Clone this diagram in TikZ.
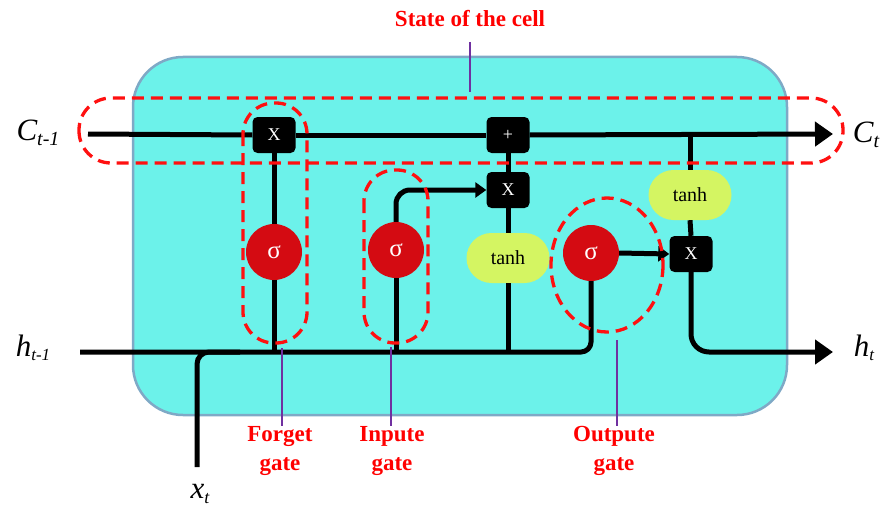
\documentclass[tikz,border=0pt]{standalone}
\usepackage{fontspec}
\setmainfont{Liberation Serif}
\usetikzlibrary{arrows.meta,shapes.geometric}
\definecolor{cellfill}{HTML}{6CF2EA}
\definecolor{cellborder}{HTML}{7FA9C6}
\definecolor{sigred}{HTML}{D40B12}
\definecolor{tanhfill}{HTML}{D4F562}
\definecolor{gatepurple}{HTML}{7030A0}
\definecolor{dashcol}{HTML}{FF1010}
\tikzset{
  opbox/.style={fill=black, rounded corners=5pt, minimum width=43pt, minimum height=36pt, inner sep=0pt, text=white, font=\fontsize{18}{18}\selectfont},
  sigbox/.style={circle, fill=sigred, minimum size=56pt, inner sep=0pt, text=white, font=\fontsize{25}{25}\selectfont},
  tanhbox/.style={fill=tanhfill, rounded corners=25pt, minimum width=83pt, minimum height=50pt, inner sep=0pt, font=\fontsize{20}{20}\selectfont},
  wire/.style={line width=5pt, black},
  bigtip/.style={-{Triangle[length=18pt,width=24pt]}},
  smalltip/.style={-{Triangle[length=11pt,width=15pt]}},
  dashred/.style={draw=dashcol, line width=3.3pt, dash pattern=on 12pt off 7pt},
  pointer/.style={draw=gatepurple, line width=1.5pt},
  redlabel/.style={text=red, font=\fontsize{23}{29}\selectfont\bfseries, align=center, inner sep=0pt},
  varlabel/.style={inner sep=0pt}
}
\begin{document}
\begin{tikzpicture}[x=1pt,y=-1pt]
\useasboundingbox (0,0) rectangle (884,511);
% cell body
\draw[draw=cellborder, line width=2.5pt, fill=cellfill, rounded corners=50pt] (133,57) rectangle (787,415);

% operation nodes
\node[opbox] (fx) at (274,135) {X};
\node[opbox] (plus) at (508,135) {+};
\node[opbox] (ix) at (508,190) {X};
\node[tanhbox] (tanha) at (508,258) {tanh};
\node[tanhbox] (tanhb) at (690,195) {tanh};
\node[opbox] (ox) at (691,254) {X};
\node[sigbox] (sf) at (274,252) {σ};
\node[sigbox] (si) at (396,250) {σ};
\node[sigbox] (so) at (591,253) {σ};

% coordinates
\coordinate (cin) at (88,134);
\coordinate (cout) at (833,134);
\coordinate (hin) at (80,352);
\coordinate (hout) at (833,352);
\coordinate (xin) at (197,467);
\coordinate (xjoin) at (240,352);
\coordinate (ctap) at (690,134);

% cell state line
\draw[wire] (cin) -- (fx.west);
\draw[wire] (fx.east) -- (plus.west);
\draw[wire,bigtip] (plus.east) -- (cout);
\draw[wire] (ctap) -- (tanhb.north);

% hidden line
\draw[wire, rounded corners=10pt] (hin) -| (so.south);
\draw[wire, rounded corners=12pt] (xin) |- (xjoin);

% forget gate
\draw[wire] (fx.south) -- (sf.north);
\draw[wire] (sf.south) -- (sf |- hin);
% input gate
\draw[wire] (si.south) -- (si |- hin);
\draw[wire, smalltip, rounded corners=14pt] (si.north) |- (ix.west);
\draw[wire] (tanha.south) -- (tanha |- hin);
\draw[wire] (tanha.north) -- (ix.south);
\draw[wire] (ix.north) -- (plus.south);
% output gate
\draw[wire, smalltip] (so.east) -- (ox.west);
\draw[wire] (tanhb.south) -- (ox.north);
\draw[wire, bigtip, rounded corners=18pt] (ox.south) |- (hout);

% dashed outlines
\draw[dashred, rounded corners=32pt] (79,98) rectangle (843,163);
\draw[dashred, rounded corners=31pt] (243,103) rectangle (307,343);
\draw[dashred, rounded corners=31pt] (364,170) rectangle (428,343);
\draw[dashred] (607,265) ellipse [x radius=56, y radius=67];

% variable labels
\node[varlabel] (ctm) at (38,133) {\fontsize{31}{31}\selectfont\itshape C\raisebox{-5pt}{\fontsize{20}{20}\selectfont t-1}};
\node[varlabel] (ct) at (866,135) {\fontsize{31}{31}\selectfont\itshape C\raisebox{-5pt}{\fontsize{20}{20}\selectfont t}};
\node[varlabel] (htm) at (33,348) {\fontsize{31}{31}\selectfont\itshape h\raisebox{-4pt}{\fontsize{17}{17}\selectfont t-1}};
\node[varlabel] (ht) at (864,348) {\fontsize{31}{31}\selectfont\itshape h\raisebox{-4pt}{\fontsize{17}{17}\selectfont t}};
\node[varlabel] (xt) at (200,494) {\fontsize{31}{31}\selectfont\itshape x\raisebox{-5pt}{\fontsize{18}{18}\selectfont t}};

% annotations
\node[redlabel] (title) at (470,19) {State of the cell};
\coordinate (titlep) at (470,42);
\coordinate (statep) at (470,92);
\draw[pointer] (titlep) -- (statep);

\node[redlabel, anchor=north] (fg) at (280,426) {Forget\\gate};
\node[redlabel, anchor=north] (ig) at (392,426) {Inpute\\gate};
\node[redlabel, anchor=north] (og) at (614,426) {Outpute\\gate};
\coordinate (fgp) at (282,348);
\coordinate (igp) at (391,347);
\coordinate (ogp) at (617,340);
\draw[pointer] (fgp) -- (fgp |- fg.north);
\draw[pointer] (igp) -- (igp |- ig.north);
\draw[pointer] (ogp) -- (ogp |- og.north);
\end{tikzpicture}
\end{document}
